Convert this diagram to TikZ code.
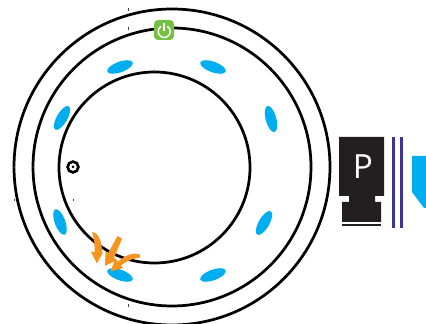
\documentclass[tikz,border=0pt]{standalone}
\usepackage{fontspec}
\setmainfont{Open Sans}
\definecolor{cblue}{HTML}{00AEEF}
\definecolor{corange}{HTML}{F7941E}
\definecolor{cgreen}{HTML}{76C043}
\definecolor{cnavy}{HTML}{3B3594}
\definecolor{cblack}{HTML}{231F20}
\tikzset{ring/.style={draw=black,line width=2.05pt,fill=none},
pill/.style={fill=cblue,draw=none},
harrow/.style={fill=corange,draw=none},
blk/.style={fill=cblack,draw=none},
navy/.style={fill=cnavy,draw=none},
tick/.style={draw=black!75,line width=0.5pt}}
\begin{document}
\begin{tikzpicture}[x=0.75pt,y=-0.75pt]
\useasboundingbox (0,0) rectangle (426,324);
\fill[white] (0,0) rectangle (426,324);
\draw[ring] (172,167) circle [radius=158];
\draw[ring] (172,167) circle [radius=139];
\draw[ring] (154.5,167.5) circle [radius=95.5];
% ticks
\foreach \a/\b/\c/\d in {128/8/128/11,128/27/128/30,128/304/128/307,14/166/14/168,33/166/33/168,14/199/14/201,73/199/73/201,154/70/154/72}
  \draw[tick] (\a,\b) -- (\c,\d);
% pills
\foreach \x/\y/\r in {120/67/20,213/67/-20,271/119/-75,264/223/60,213/275/20,120/275/-20,60/222/-70,62/118/60}
  \fill[pill,rotate around={\r:(\x,\y)}] (\x,\y) ellipse [x radius=13.5,y radius=5.3];
% power
\fill[cgreen,rounded corners=3pt] (154,20) rectangle (174,40);
\draw[white,line width=1.1pt] (167.2,26.3) arc [start angle=-60,end angle=240,radius=6];
\draw[white,line width=1.3pt] (164,23.5) -- (164,31);
% target
\draw[black,line width=2pt] (73,167) circle [radius=5.4];
\fill[black] (73,167) circle [radius=1.5];
% arrows
\fill[harrow] (92,232) .. controls (98,232) and (102,241) .. (102,252) -- (103,252) -- (97,263.5) -- (91,252) -- (94.5,252) .. controls (95,245) and (94,238) .. (92,232) -- cycle;
\fill[harrow] (117.5,236) -- (122,238.5) -- (114,258) -- (117,260) -- (105,266) -- (105.5,251.5) -- (108,253.5) -- cycle;
\fill[harrow] (140,254.5) .. controls (133,252) and (126,255) .. (118,261.5) -- (115,259.5) -- (110.5,271.5) -- (123,268) -- (121,265.5) .. controls (127,260.5) and (133,258.5) .. (140,257.5) -- cycle;
% P block
\fill[blk] (339,137) -- (384,137) -- (384,196) -- (375,196) -- (375,202) -- (381,202) -- (381,222) -- (342,222) -- (342,202) -- (349,202) -- (349,196) -- (339,196) -- cycle;
\fill[blk] (342,224.5) rectangle (381,226.5);
\node[text=white,font=\fontsize{25}{25}\selectfont,inner sep=0pt] (p) at (363,167) {P};
\fill[navy] (392,137) rectangle (395,228);
\fill[navy] (400,137) rectangle (403,228);
\fill[cblue] (412,156) -- (426,156) -- (426,208) -- (424,208) -- (412,192) -- cycle;
\end{tikzpicture}
\end{document}
